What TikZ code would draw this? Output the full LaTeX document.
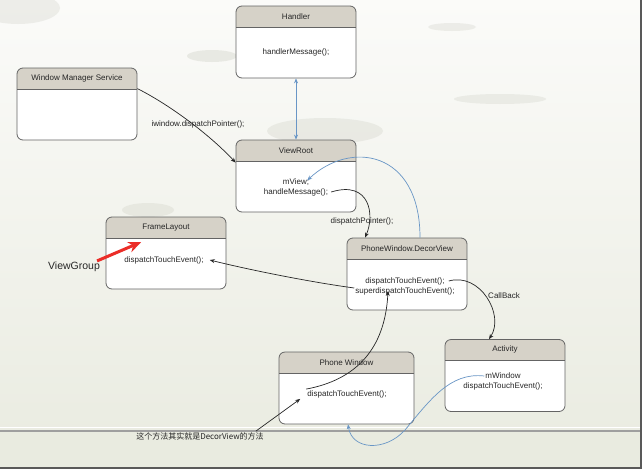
\documentclass[tikz,border=0pt]{standalone}
\usepackage{fontspec}
\setmainfont{Liberation Sans}
\newfontfamily\cjk{Noto Sans CJK SC}
\usetikzlibrary{arrows, arrows.meta, positioning}
\definecolor{boxline}{RGB}{100,100,100}
\definecolor{headfill}{RGB}{214,210,200}
\definecolor{callblue}{RGB}{105,150,198}
\definecolor{bgtop}{RGB}{251,251,249}
\definecolor{bgbottom}{RGB}{233,235,224}
\definecolor{blob}{RGB}{196,198,186}
\definecolor{markred}{RGB}{235,45,40}
\tikzstyle{classbox} = [rectangle, rounded corners=6pt, draw=boxline, line width=0.8pt, fill=white, minimum width=120pt, minimum height=72pt, path picture={\fill[headfill, sharp corners] (path picture bounding box.north west) rectangle ([yshift=-21pt]path picture bounding box.north east); \draw[boxline, sharp corners] ([yshift=-21pt]path picture bounding box.north west) -- ([yshift=-21pt]path picture bounding box.north east);}]
\tikzstyle{boxtitle} = [anchor=north, minimum height=21pt, inner sep=0pt, font=\fontsize{8}{10}\selectfont, text=black!85]
\tikzstyle{method} = [inner sep=1pt, font=\fontsize{8}{10}\selectfont, text=black!85]
\tikzstyle{arrow} = [->, >={Stealth[length=5pt, width=4pt]}, line width=0.7pt, black!85]
\tikzstyle{callarrow} = [->, >={Stealth[length=5pt, width=4pt]}, line width=0.7pt, callblue]

\begin{document}
\begin{tikzpicture}[x=1pt, y=-1pt] % one unit = one pixel, y runs down

    \useasboundingbox (0,0) rectangle (644,471);
    \fill[white] (0,0) rectangle (644,471);
    \shade[top color=bgtop, bottom color=bgbottom] (0,0) rectangle (640,467);
    \fill[bgbottom] (0,431) rectangle (640,467);
    \fill[blob, opacity=0.25] (18,8) ellipse (42 and 16);
    \fill[blob, opacity=0.3] (212,56) ellipse (25 and 6);
    \fill[blob, opacity=0.25] (452,27) ellipse (24 and 4);
    \fill[blob, opacity=0.25] (500,99) ellipse (46 and 5);
    \fill[blob, opacity=0.25] (325,131) ellipse (58 and 13);
    \fill[blob, opacity=0.25] (148,210) ellipse (26 and 7);
    \draw[white, line width=1pt] (0,427) -- (640,427);
    \draw[gray!75, line width=1.2pt] (0,431) -- (640,431);
    \draw[black!65, line width=2pt] (641,0) -- (641,468) -- (0,468);

    \node (handler) [classbox] at (296,42) {};
    \node (handler title) [boxtitle] at (handler.north) {Handler};
    \node (handler body) [method] at (296,52) {handlerMessage();};

    \node (wms) [classbox] at (77,104) {};
    \node (wms title) [boxtitle] at (wms.north) {Window Manager Service};

    \node (viewroot) [classbox] at (296,176) {};
    \node (viewroot title) [boxtitle] at (viewroot.north) {ViewRoot};
    \node (vr mview) [method] at (296,182) {mView;};
    \node (vr handle) [method] at (296,192) {handleMessage();};

    \node (frame) [classbox] at (166,253) {};
    \node (frame title) [boxtitle] at (frame.north) {FrameLayout};
    \node (fl body) [method] at (164,260) {dispatchTouchEvent();};

    \node (decor) [classbox] at (407,274) {};
    \node (decor title) [boxtitle] at (decor.north) {PhoneWindow.DecorView};
    \node (de dispatch) [method] at (405,281) {dispatchTouchEvent();};
    \node (de super) [method] at (405,291) {superdispatchTouchEvent();};

    \node (phonewin) [classbox, minimum width=135pt] at (346.5,388) {};
    \node (phonewin title) [boxtitle] at (phonewin.north) {Phone Window};
    \node (pw body) [method] at (347,394) {dispatchTouchEvent();};

    \node (activity) [classbox] at (505,375.5) {};
    \node (activity title) [boxtitle] at (activity.north) {Activity};
    \node (act mwin) [method] at (503,376) {mWindow};
    \node (act dispatch) [method] at (503,386) {dispatchTouchEvent();};

    \node (viewgroup) [inner sep=1pt, font=\fontsize{10.5}{12}\selectfont, text=black!85] at (74,267) {ViewGroup};
    \node (note) [method, font=\cjk\fontsize{8}{10}\selectfont] at (200,436) {这个方法其实就是DecorView的方法};

    % Arrows
    \draw [callarrow, <->] (handler.south) -- (viewroot.north);
    \draw [arrow] ([yshift=-21pt]wms.north east) .. controls (170,105) and (210,135) .. ([yshift=-23pt]viewroot.north west);
    \node (wms label) [method] at (198,124) {iwindow.dispatchPointer();};
    \draw [arrow] ([xshift=2pt]vr handle.east) .. controls (370,180) and (375,215) .. ([xshift=-42pt]decor.north);
    \node (vr label) [method] at (362,221) {dispatchPointer();};
    \draw [callarrow] ([xshift=13pt]decor.north) .. controls (420,150) and (350,140) .. ([xshift=-3pt, yshift=-3pt]vr mview.north east);
    \draw [arrow] ([yshift=3pt]de super.west) .. controls (310,282) and (250,270) .. ([xshift=5pt]fl body.east);
    \draw [arrow] ([xshift=3pt]de dispatch.east) .. controls (480,272) and (505,315) .. ([xshift=-16pt]activity.north);
    \node (callback) [method] at (504,296) {CallBack};
    \draw [arrow] (pw body.north west) .. controls (355,380) and (385,350) .. ([xshift=-17pt]de super.center);
    \draw [arrow] ([xshift=-9pt]note.north east) -- ([xshift=-6pt]pw body.south west);
    \draw [callarrow] (act mwin.west) .. controls (450,372) and (430,400) .. (405,430) .. controls (385,452) and (352,450) .. ([xshift=1.5pt]phonewin.south);
    \draw [markred, line width=3pt, -{Stealth[length=13pt, width=11pt]}] ([xshift=-4pt]viewgroup.north east) -- ([xshift=-1pt, yshift=-4pt]frame title.south west);
\end{tikzpicture}
\end{document}
